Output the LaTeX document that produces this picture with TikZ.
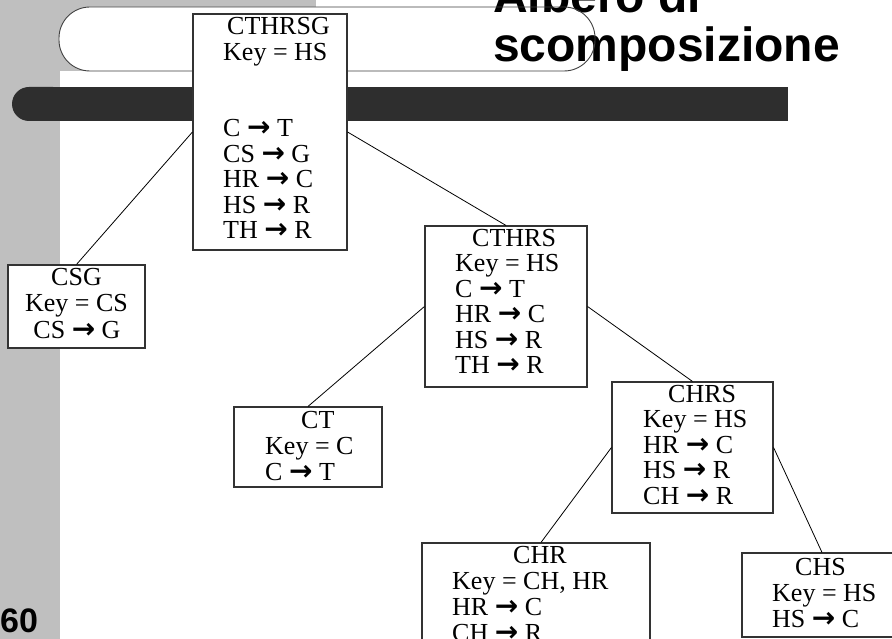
\documentclass[tikz,border=0pt]{standalone}
\usepackage{fontspec}
\setmainfont{Liberation Serif}
\newfontfamily\titlefont{Liberation Sans}
\newfontfamily\arrowfont{DejaVu Sans}
\tikzset{
  box/.style={draw=black!80, line width=1.1pt, fill=white, rectangle, inner sep=0pt},
  tx/.style={inner sep=0pt, anchor=base west, text height=18pt, text depth=5pt, font=\fontsize{26}{26}\selectfont},
  txc/.style={inner sep=0pt, anchor=base, text height=18pt, text depth=5pt, font=\fontsize{26}{26}\selectfont},
  link/.style={draw=black, line width=0.8pt},
}
\newcommand{\ra}{{\arrowfont\bfseries\fontsize{28}{26}\selectfont →}}
\begin{document}
\begin{tikzpicture}[x=1pt,y=-1pt]
\useasboundingbox (0,0) rectangle (892,639);
\fill[white] (0,0) rectangle (892,639);
% background decoration
\fill[black!25] (0,0) rectangle (60,639);
\fill[black!25] (0,0) rectangle (316,71);
\fill[white, rounded corners=31pt] (59,7) rectangle (595,71);
\node[inner sep=0pt, anchor=base west, font=\titlefont\bfseries\fontsize{48}{49}\selectfont] (t1) at (493,13) {Albero di};
\node[inner sep=0pt, anchor=base west, font=\titlefont\bfseries\fontsize{48}{49}\selectfont] (t2) at (493,62) {scomposizione};
\draw[black!75, line width=0.9pt, rounded corners=31pt] (59,7) rectangle (595,71);
\fill[black!82, rounded corners=17pt] (12,87) rectangle (70,121);
\fill[black!82] (45,87) rectangle (788,121);
% boxes
\node[box, minimum width=154pt, minimum height=236pt] (g) at (270,132) {};
\node[box, minimum width=137pt, minimum height=83pt] (csg) at (76.5,306.5) {};
\node[box, minimum width=162pt, minimum height=161pt] (cthrs) at (506,306.5) {};
\node[box, minimum width=148pt, minimum height=80pt] (ct) at (308,447) {};
\node[box, minimum width=161pt, minimum height=131pt] (chrs) at (692.5,447.5) {};
\node[box, minimum width=228pt, minimum height=157pt] (chr) at (536,621.5) {};
\node[box, minimum width=160pt, minimum height=84pt] (chs) at (822,595) {};
% connectors
\draw[link] (g.west) -- (csg.north);
\draw[link] (g.east) -- (cthrs.north);
\draw[link] (cthrs.west) -- (ct.north);
\draw[link] (cthrs.east) -- (chrs.north);
\draw[link] (chrs.west) -- ([xshift=5pt]chr.north);
\draw[link] (chrs.east) -- (chs.north);
% texts CTHRSG
\node[tx] (g1) at (227,35) {CTHRSG};
\node[tx] (g2) at (223,60.5) {Key = HS};
\node[tx] (g3) at (223,137) {C \ra{} T};
\node[tx] (g4) at (223,162.5) {CS \ra{} G};
\node[tx] (g5) at (223,188) {HR \ra{} C};
\node[tx] (g6) at (223,213.5) {HS \ra{} R};
\node[tx] (g7) at (223,239) {TH \ra{} R};
% CSG
\node[txc] (s1) at (76.5,286) {CSG};
\node[txc] (s2) at (76.5,312) {Key = CS};
\node[txc] (s3) at (77,338) {CS \ra{} G};
% CTHRS
\node[tx] (r1) at (472,247) {CTHRS};
\node[tx] (r2) at (455,272) {Key = HS};
\node[tx] (r3) at (455,297.5) {C \ra{} T};
\node[tx] (r4) at (455,323) {HR \ra{} C};
\node[tx] (r5) at (455,348) {HS \ra{} R};
\node[tx] (r6) at (455,373) {TH \ra{} R};
% CT
\node[tx] (c1) at (301,428) {CT};
\node[tx] (c2) at (265,454) {Key = C};
\node[tx] (c3) at (265,480) {C \ra{} T};
% CHRS
\node[tx] (h1) at (668,402) {CHRS};
\node[tx] (h2) at (643,427.5) {Key = HS};
\node[tx] (h3) at (643,453) {HR \ra{} C};
\node[tx] (h4) at (643,478.5) {HS \ra{} R};
\node[tx] (h5) at (643,504) {CH \ra{} R};
% CHR
\node[tx] (k1) at (513,563) {CHR};
\node[tx] (k2) at (452,589.5) {Key = CH, HR};
\node[tx] (k3) at (452,615) {HR \ra{} C};
\node[tx] (k4) at (452,641) {CH \ra{} R};
% CHS
\node[tx] (m1) at (795,575) {CHS};
\node[tx] (m2) at (772,601) {Key = HS};
\node[tx] (m3) at (772,627) {HS \ra{} C};
% page number
\node[inner sep=0pt, anchor=base west, font=\titlefont\bfseries\fontsize{34}{34}\selectfont] (pn) at (0,632) {60};
\end{tikzpicture}
\end{document}
